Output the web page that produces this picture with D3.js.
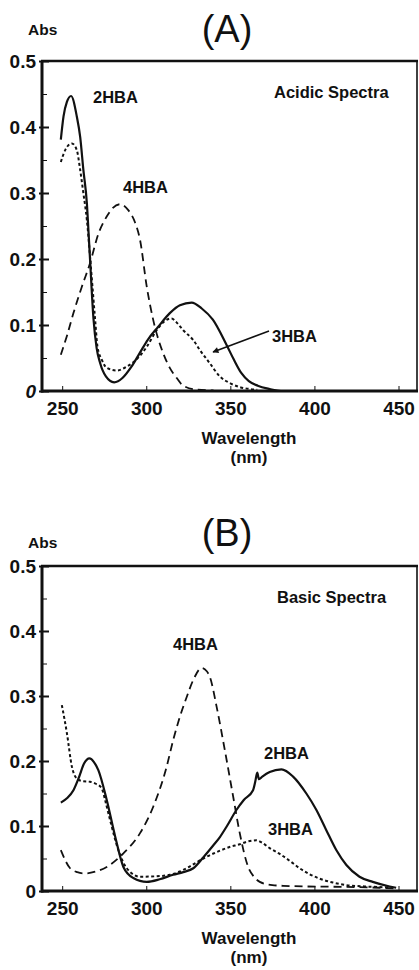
<!DOCTYPE html>
<meta charset="utf-8">
<script src="https://d3js.org/d3.v7.min.js"></script>
<title>Hydroxybenzoic acid spectra</title>
<style>
  body { margin: 0; background: white; }
  svg text { font-family: "Liberation Sans", Arial, Helvetica, sans-serif; fill: #111; }
  .tick text { font-weight: bold; font-size: 19px; }
  .lbl { font-weight: bold; font-size: 16.5px; }
  .title { font-size: 38px; }
</style>
<body>
<div id="chart"></div>
<script>
// axis ticks
var wavelengthTicks = [250, 300, 350, 400, 450];
var absTicks = [0, 0.1, 0.2, 0.3, 0.4, 0.5];
var absMinorTicks = [0.05, 0.15, 0.25, 0.35, 0.45];

// (A) acidic spectra, [wavelength nm, absorbance]
var acid2HBA = [[249.2,0.381],[250.8,0.416],[252.8,0.438],[255.3,0.447],[258.7,0.416],[260.7,0.385],[262.6,0.335],[264.7,0.284],
  [265.6,0.244],[266.6,0.198],[268.6,0.11],[270.5,0.065],[272.6,0.042],[276,0.022],[280.9,0.013],[286,0.02],[291,0.036],
  [296,0.057],[301,0.078],[307,0.097],[314,0.118],[320,0.130],[327,0.134],[333,0.125],[339.6,0.108],[347.7,0.070],
  [352,0.048],[356.6,0.027],[361,0.015],[366.3,0.008],[373.4,0.003],[380,0.0]];
var acid3HBA = [[249.2,0.347],[251.8,0.365],[255.8,0.375],[258.7,0.365],[260.7,0.335],[262.6,0.30],[264.7,0.259],
  [267,0.19],[269.6,0.108],[271,0.067],[273.6,0.047],[276.5,0.035],[282.5,0.031],[288.4,0.037],[294.3,0.048],[300.3,0.067],
  [306.2,0.092],[311,0.106],[315,0.110],[318,0.104],[322,0.092],[328,0.077],[331.9,0.062],[337.8,0.042],[343.8,0.022],
  [349.7,0.012],[355.6,0.006],[361.6,0.003],[366,0.002]];
var acid4HBA = [[249.2,0.055],[253,0.085],[256.7,0.118],[261.7,0.158],[266.6,0.194],[271.5,0.238],[276.4,0.264],[280,0.277],
  [284.4,0.283],[289.3,0.274],[293.4,0.255],[296.3,0.229],[300.3,0.158],[304.2,0.107],[310.1,0.057],[314,0.035],[318,0.02],
  [322,0.008],[330,0.002],[340,0.001]];

// (B) basic spectra
var base2HBA = [[249.2,0.136],[253,0.143],[256.7,0.155],[260,0.175],[263,0.196],[266.2,0.204],[269,0.198],[271.5,0.186],
  [276.5,0.14],[281.5,0.084],[286.4,0.037],[292.3,0.02],[300.3,0.014],[308,0.018],[316,0.025],[322,0.029],[328,0.035],
  [334,0.052],[339.8,0.07],[343.8,0.083],[348,0.1],[353.7,0.125],[358,0.14],[363.5,0.155],[364.8,0.168],[366,0.182],
  [367,0.172],[369,0.176],[373.4,0.183],[380.4,0.187],[387.3,0.176],[395.2,0.150],[401.1,0.125],[407,0.094],[413,0.063],
  [419,0.04],[426.8,0.022],[434.7,0.014],[444.7,0.007],[448.6,0.005]];
var base3HBA = [[249.8,0.286],[252.8,0.243],[255.8,0.191],[258.7,0.173],[262,0.169],[266.6,0.168],[270,0.165],[273.5,0.158],
  [276,0.135],[278.5,0.109],[283.4,0.063],[288.4,0.035],[296.3,0.022],[308.2,0.023],[314.1,0.025],[320,0.030],[326,0.038],
  [333.9,0.05],[343.8,0.062],[350,0.068],[355.6,0.072],[360,0.076],[365.5,0.078],[369,0.074],[373.4,0.066],[379.4,0.057],
  [385,0.047],[391.2,0.035],[397,0.026],[403.1,0.019],[411,0.013],[419,0.009],[430,0.007],[438.7,0.006],[446.4,0.005]];
var base4HBA = [[249.2,0.063],[254.7,0.035],[259,0.029],[263.6,0.027],[270,0.03],[276.5,0.037],[286.4,0.058],[296.3,0.089],
  [304.2,0.13],[312,0.19],[316,0.232],[320,0.268],[324,0.298],[328,0.325],[332.9,0.343],[336,0.338],[338,0.328],[341.8,0.284],
  [346.7,0.217],[351.7,0.145],[355.6,0.089],[360.6,0.037],[364,0.022],[367.5,0.014],[375,0.009],[381.3,0.008],[395,0.007],
  [409,0.0066],[425,0.006],[438.7,0.005],[448,0.004]];

var svg = d3.select("#chart")
  .append("svg")
    .attr("width", 419)
    .attr("height", 970);

svg.append("defs").append("marker")
    .attr("id", "arrow")
    .attr("viewBox", "0 0 10 10")
    .attr("refX", 9).attr("refY", 5)
    .attr("markerWidth", 8).attr("markerHeight", 6)
    .attr("markerUnits", "userSpaceOnUse")
    .attr("orient", "auto")
  .append("path")
    .attr("d", "M0,0L10,5L0,10z")
    .attr("fill", "#111");

var styles = {
  solid:  { dash: null,  w: 2.2 },
  dashed: { dash: "8,5", w: 1.8 },
  dotted: { dash: "3,2.5", w: 2.0 }
};

function drawPanel(p) {
  var x = d3.scaleLinear().domain([238, 461]).range([42, 417]);
  var y = d3.scaleLinear().domain([0, 0.5]).range([p.bottom, p.top]);
  var g = svg.append("g");

  // curves
  var line = d3.line()
    .x(function(d) { return x(d[0]); })
    .y(function(d) { return y(d[1]); })
    .curve(d3.curveMonotoneX);
  p.series.forEach(function(s) {
    g.append("path")
      .datum(s.data)
      .attr("d", line)
      .attr("fill", "none")
      .attr("stroke", "#111")
      .attr("stroke-width", styles[s.style].w)
      .attr("stroke-dasharray", styles[s.style].dash)
      .attr("stroke-linejoin", "round");
  });

  // x axis
  var xa = g.append("g")
    .attr("transform", "translate(0," + p.bottom + ")")
    .call(d3.axisBottom(x).tickValues(wavelengthTicks).tickSize(-5).tickPadding(11));
  xa.select(".domain").remove();

  // y axis labels + ticks
  var ya = g.append("g")
    .attr("transform", "translate(42,0)")
    .call(d3.axisLeft(y).tickValues(absTicks).tickSizeInner(-7).tickSizeOuter(0).tickPadding(6)
      .tickFormat(function(d) { return d === 0 ? "0" : d3.format(".1f")(d); }));
  ya.select(".domain").remove();
  ya.selectAll(".tick line").attr("x1", -3).attr("stroke-width", 2);
  if (p.italicZero) ya.selectAll(".tick text").filter(function(d) { return d === 0; }).style("font-style", "italic");
  g.append("g")
    .attr("transform", "translate(42,0)")
    .call(d3.axisLeft(y).tickValues(absMinorTicks).tickSize(-5).tickFormat(""))
    .select(".domain").remove();
  g.selectAll(".tick line").attr("stroke", "#111");

  // frame
  g.append("line").attr("x1", 42).attr("x2", 42).attr("y1", p.top).attr("y2", p.bottom + 1.5).attr("stroke", "#111").attr("stroke-width", 3);
  g.append("line").attr("x1", 41).attr("x2", 418).attr("y1", p.bottom).attr("y2", p.bottom).attr("stroke", "#111").attr("stroke-width", 3);
  g.append("line").attr("x1", 41).attr("x2", 418).attr("y1", p.top).attr("y2", p.top).attr("stroke", "#111").attr("stroke-width", 2.5);
  g.append("line").attr("x1", 417).attr("x2", 417).attr("y1", p.top).attr("y2", p.bottom).attr("stroke", "#111").attr("stroke-width", 1.6);

  // texts
  g.append("text").attr("class", "title").attr("x", 227).attr("y", p.titleY).attr("text-anchor", "middle").text(p.title);
  g.append("text").attr("class", "lbl").attr("x", 28).attr("y", p.absY).style("font-size", "15.5px").text("Abs");
  g.append("text").attr("class", "lbl").attr("x", 249).attr("y", p.bottom + 53).attr("text-anchor", "middle").style("font-size", "17px").text("Wavelength");
  g.append("text").attr("class", "lbl").attr("x", 249).attr("y", p.bottom + 72).attr("text-anchor", "middle").style("font-size", "17px").text("(nm)");
  p.notes.forEach(function(n) {
    g.append("text").attr("class", "lbl").attr("x", n.x).attr("y", n.y).text(n.t);
  });
  if (p.arrow) {
    g.append("line")
      .attr("x1", p.arrow[0]).attr("y1", p.arrow[1])
      .attr("x2", p.arrow[2]).attr("y2", p.arrow[3])
      .attr("stroke", "#111").attr("stroke-width", 1.5)
      .attr("marker-end", "url(#arrow)");
  }
}

drawPanel({
  top: 61, bottom: 391, title: "(A)", titleY: 42, absY: 35, italicZero: true,
  series: [
    { data: acid4HBA, style: "dashed" },
    { data: acid3HBA, style: "dotted" },
    { data: acid2HBA, style: "solid" }
  ],
  notes: [
    { t: "2HBA", x: 93, y: 103 },
    { t: "Acidic Spectra", x: 274, y: 98 },
    { t: "4HBA", x: 123, y: 193 },
    { t: "3HBA", x: 272, y: 342 }
  ],
  arrow: [269, 331, 213, 352]
});

drawPanel({
  top: 566, bottom: 891, title: "(B)", titleY: 546, absY: 548, italicZero: false,
  series: [
    { data: base4HBA, style: "dashed" },
    { data: base3HBA, style: "dotted" },
    { data: base2HBA, style: "solid" }
  ],
  notes: [
    { t: "Basic Spectra", x: 277, y: 603 },
    { t: "4HBA", x: 173, y: 650 },
    { t: "2HBA", x: 264, y: 759 },
    { t: "3HBA", x: 268, y: 835 }
  ]
});
</script>
</body>
